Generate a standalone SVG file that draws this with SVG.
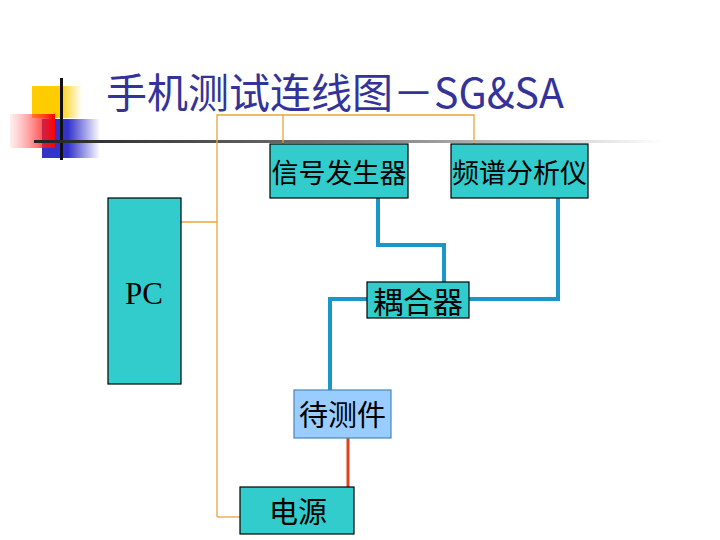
<svg xmlns="http://www.w3.org/2000/svg" width="720" height="540" viewBox="0 0 720 540">
<defs>
<linearGradient id="gy" x1="0" y1="0" x2="1" y2="0"><stop offset="0" stop-color="#FFCC00"/><stop offset="0.55" stop-color="#FFCC00"/><stop offset="1" stop-color="#FFCC00" stop-opacity="0"/></linearGradient>
<linearGradient id="gr" x1="0" y1="0" x2="1" y2="0"><stop offset="0" stop-color="#FF6666" stop-opacity="0.1"/><stop offset="1" stop-color="#FF0000"/></linearGradient>
<linearGradient id="gb" x1="0" y1="0" x2="1" y2="0"><stop offset="0" stop-color="#3333CC"/><stop offset="0.45" stop-color="#3333CC"/><stop offset="1" stop-color="#3333CC" stop-opacity="0"/></linearGradient>
<linearGradient id="gl" x1="0" y1="0" x2="1" y2="0"><stop offset="0" stop-color="#222222"/><stop offset="0.5" stop-color="#777777"/><stop offset="1" stop-color="#FFFFFF"/></linearGradient>
</defs>
<style>
.box{fill:#33CCCC;stroke:#000;stroke-width:1.2}
.dut{fill:#99CCFF;stroke:#4A86B8;stroke-width:1.2}
.lbl{font-family:"Noto Sans CJK SC",sans-serif;font-size:27px;fill:#000;text-anchor:middle}
.pc{font-family:"Liberation Serif",serif;font-size:31px;fill:#000;text-anchor:middle}
.org{fill:none;stroke:#E8A53A;stroke-width:1.3}
.blu{fill:none;stroke:#1A96C8;stroke-width:4}
.red{fill:none;stroke:#E0401A;stroke-width:3}
.title{font-family:"Noto Sans CJK SC","Liberation Sans",sans-serif;font-size:41px;fill:#333399}
</style>
<g id="logo">
<rect x="32" y="86" width="50" height="32" fill="url(#gy)"/>
<rect x="42" y="119" width="58" height="39" fill="url(#gb)"/>
<rect x="10" y="114" width="45" height="34" fill="url(#gr)"/>
<rect x="60" y="78" width="3" height="82" fill="#111"/>
<rect x="34" y="140" width="630" height="3" fill="url(#gl)"/>
</g>
<text class="title" x="106" y="108">手机测试连线图－SG&amp;SA</text>
<g id="connectors">
<polyline class="org" points="217,517 217,115 474,115 474,144"/>
<line class="org" x1="283" y1="115" x2="283" y2="144"/>
<line class="org" x1="181" y1="222" x2="217" y2="222"/>
<line class="org" x1="217" y1="517" x2="240" y2="517"/>
<polyline class="blu" points="378,198 378,245 444,245 444,282"/>
<polyline class="blu" points="469,299 558,299 558,198"/>
<polyline class="blu" points="367,299 330,299 330,390"/>
<line class="red" x1="348" y1="432" x2="348" y2="498"/>
</g>
<g id="sg"><rect class="box" x="270" y="144" width="138" height="54"/><text class="lbl" x="339" y="183">信号发生器</text></g>
<g id="sa"><rect class="box" x="451" y="144" width="137" height="54"/><text class="lbl" x="519.5" y="183">频谱分析仪</text></g>
<g id="pc"><rect class="box" x="108" y="198" width="73" height="186"/><text class="pc" x="144" y="304">PC</text></g>
<g id="coupler"><rect class="box" x="367" y="282" width="102" height="36"/><text class="lbl" x="418" y="313" style="font-size:30px">耦合器</text></g>
<g id="dut"><rect class="dut" x="294" y="390" width="97" height="48"/><text class="lbl" x="342.5" y="426" style="font-size:29px">待测件</text></g>
<g id="power"><rect class="box" x="240" y="487" width="114" height="47"/><text class="lbl" x="298" y="523" style="font-size:29px">电源</text></g>
</svg>
